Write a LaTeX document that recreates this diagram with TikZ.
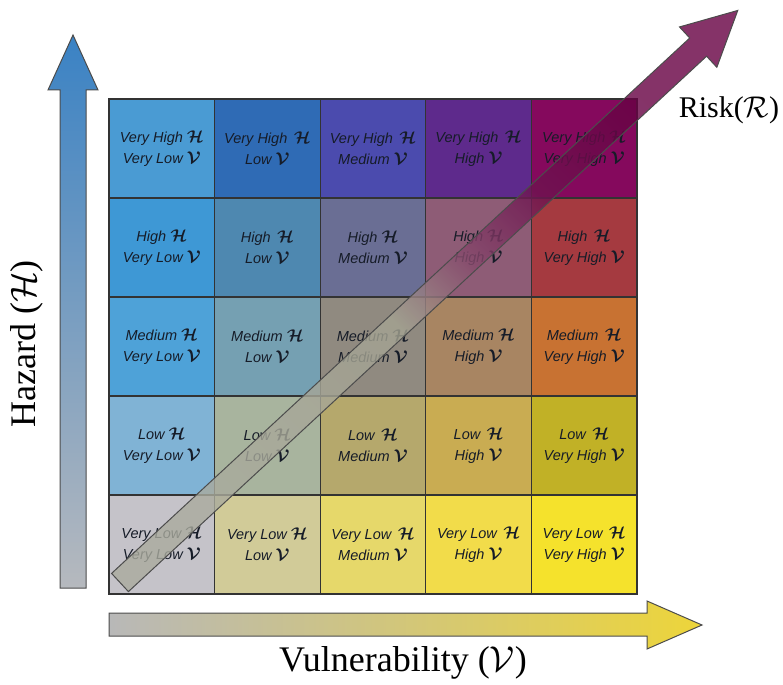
\RequirePackage{fix-cm}
\documentclass[tikz,border=0pt]{standalone}
\usepackage{fontspec}
\setmainfont{Liberation Serif}
\newfontfamily\cellfont{Liberation Sans}
\definecolor{r1c1}{HTML}{4A9BD3}
\definecolor{r1c2}{HTML}{2F6BB5}
\definecolor{r1c3}{HTML}{4B4BAE}
\definecolor{r1c4}{HTML}{5E2A8C}
\definecolor{r1c5}{HTML}{85095D}
\definecolor{r2c1}{HTML}{3E98D5}
\definecolor{r2c2}{HTML}{4E88B0}
\definecolor{r2c3}{HTML}{6A6E94}
\definecolor{r2c4}{HTML}{8E5C76}
\definecolor{r2c5}{HTML}{A53A40}
\definecolor{r3c1}{HTML}{4EA2D8}
\definecolor{r3c2}{HTML}{75A0B2}
\definecolor{r3c3}{HTML}{908A80}
\definecolor{r3c4}{HTML}{A88562}
\definecolor{r3c5}{HTML}{C87232}
\definecolor{r4c1}{HTML}{80B3D5}
\definecolor{r4c2}{HTML}{A8B49E}
\definecolor{r4c3}{HTML}{B5A86C}
\definecolor{r4c4}{HTML}{C9AC52}
\definecolor{r4c5}{HTML}{C1B126}
\definecolor{r5c1}{HTML}{C5C3C9}
\definecolor{r5c2}{HTML}{D1CB98}
\definecolor{r5c3}{HTML}{E6D86A}
\definecolor{r5c4}{HTML}{F2DC4A}
\definecolor{r5c5}{HTML}{F5E22C}
\definecolor{txt}{HTML}{161C28}
\definecolor{hzt}{HTML}{3A82C4}
\definecolor{hzm}{HTML}{4A9BD0}
\definecolor{hzb}{HTML}{B6B9BE}
\definecolor{vlL}{HTML}{B8B8B8}
\definecolor{vlM}{HTML}{D9D290}
\definecolor{vlR}{HTML}{EDD53A}
\definecolor{rkA}{HTML}{AAAB9E}
\definecolor{rkB}{HTML}{A4A392}
\definecolor{rkC}{HTML}{864A6C}
\definecolor{rkD}{HTML}{6E1450}
\definecolor{rkE}{HTML}{660042}
\pgfdeclareverticalshading{riskshade}{100bp}{color(0bp)=(rkA); color(25bp)=(rkA); color(47bp)=(rkB); color(55bp)=(rkC); color(63bp)=(rkD); color(75bp)=(rkE); color(100bp)=(rkE)}
\tikzset{
  cell/.style={draw=black!80, line width=1.3bp, minimum width=105.6bp, minimum height=99bp,
    inner sep=0pt, align=center, text=txt,
    font=\cellfont\itshape\fontsize{14.5bp}{21bp}\selectfont},
  axislabel/.style={font=\fontsize{36bp}{42bp}\selectfont, inner sep=0pt},
  bigarrow/.style={draw=black!70, line width=1bp}
}
\newcommand{\HH}{{\fontsize{17bp}{21bp}\selectfont\boldmath$\mathcal{H}$}}
\newcommand{\VV}{{\fontsize{17bp}{21bp}\selectfont\boldmath$\mathcal{V}$}}
\begin{document}
\begin{tikzpicture}[x=1bp, y=-1bp]
\useasboundingbox (0,0) rectangle (783,685);
% axes arrows
\shade[bigarrow, top color=hzt, middle color=hzm, bottom color=hzb]
  (60,588) -- (60,90) -- (48,90) -- (73,35) -- (98,90) -- (86,90) -- (86,588) -- cycle;
\shade[bigarrow, left color=vlL, middle color=vlM, right color=vlR]
  (109,613) -- (647,613) -- (647,601) -- (702,625) -- (647,649) -- (647,636) -- (109,636) -- cycle;
% cells: row 1
\node[cell, fill=r1c1] (c11) at (161.8,148.5) {Very High \HH\\Very Low \VV};
\node[cell, fill=r1c2] (c12) at (267.4,148.5) {Very High\, \HH\\Low \VV};
\node[cell, fill=r1c3] (c13) at (373.0,148.5) {Very High\, \HH\\Medium \VV};
\node[cell, fill=r1c4] (c14) at (478.6,148.5) {Very High\, \HH\\High \VV};
\node[cell, fill=r1c5] (c15) at (584.2,148.5) {Very High \HH\\Very High \VV};
% row 2
\node[cell, fill=r2c1] (c21) at (161.8,247.5) {High \HH\\Very Low \VV};
\node[cell, fill=r2c2] (c22) at (267.4,247.5) {High\, \HH\\Low \VV};
\node[cell, fill=r2c3] (c23) at (373.0,247.5) {High \HH\\Medium \VV};
\node[cell, fill=r2c4] (c24) at (478.6,247.5) {High \HH\\High \VV};
\node[cell, fill=r2c5] (c25) at (584.2,247.5) {High\, \HH\\Very High \VV};
% row 3
\node[cell, fill=r3c1] (c31) at (161.8,346.5) {Medium \HH\\Very Low \VV};
\node[cell, fill=r3c2] (c32) at (267.4,346.5) {Medium \HH\\Low \VV};
\node[cell, fill=r3c3] (c33) at (373.0,346.5) {Medium \HH\\Medium \VV};
\node[cell, fill=r3c4] (c34) at (478.6,346.5) {Medium \HH\\High \VV};
\node[cell, fill=r3c5] (c35) at (584.2,346.5) {Medium\, \HH\\Very High \VV};
% row 4
\node[cell, fill=r4c1] (c41) at (161.8,445.5) {Low \HH\\Very Low \VV};
\node[cell, fill=r4c2] (c42) at (267.4,445.5) {Low \HH\\Low \VV};
\node[cell, fill=r4c3] (c43) at (373.0,445.5) {Low\, \HH\\Medium \VV};
\node[cell, fill=r4c4] (c44) at (478.6,445.5) {Low\, \HH\\High \VV};
\node[cell, fill=r4c5] (c45) at (584.2,445.5) {Low\, \HH\\Very High \VV};
% row 5
\node[cell, fill=r5c1] (c51) at (161.8,544.5) {Very Low \HH\\Very Low \VV};
\node[cell, fill=r5c2] (c52) at (267.4,544.5) {Very Low \HH\\Low \VV};
\node[cell, fill=r5c3] (c53) at (373.0,544.5) {Very Low\, \HH\\Medium \VV};
\node[cell, fill=r5c4] (c54) at (478.6,544.5) {Very Low\, \HH\\High \VV};
\node[cell, fill=r5c5] (c55) at (584.2,544.5) {Very Low\, \HH\\Very High \VV};
% risk arrow
\begin{scope}[shift={(120,582.5)}, rotate=42.8]
  \shade[bigarrow, fill opacity=0.8, shading=riskshade, shading angle=-45]
    (0,-12.4) -- (788,-12.4) -- (788,-27.5) -- (842,0) -- (788,27.5) -- (788,12.4) -- (0,12.4) -- cycle;
\end{scope}
% labels
\node[axislabel, rotate=90] (hz) at (27,344) {Hazard ($\mathcal{H}$)};
\node[axislabel] (vl) at (403,663) {Vulnerability ($\mathcal{V}$)};
\node[axislabel, font=\fontsize{30bp}{36bp}\selectfont] (rk) at (729,110) {Risk($\mathcal{R}$)};
\end{tikzpicture}
\end{document}
